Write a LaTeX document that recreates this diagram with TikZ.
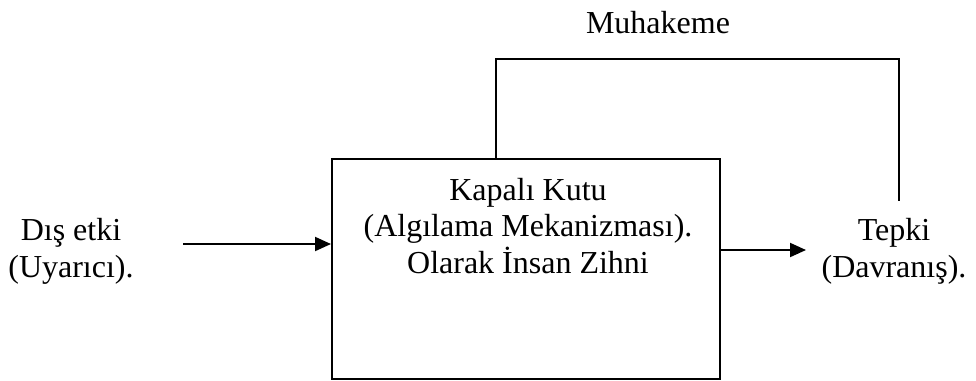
\documentclass[tikz,border=0pt]{standalone}
\usepackage{fontspec}
\setmainfont{Liberation Serif}
\usepackage{tikz}
\usetikzlibrary{positioning,arrows.meta}
\tikzset{%
	kutu/.style={
		rectangle,
		draw,
		line width=0.75pt,
		inner sep=0pt,
		minimum width=145.5pt,
		minimum height=82.5pt
	},
	etiket/.style={
		align=center,
		inner sep=0pt,
		anchor=base,
		font=\fontsize{12}{13.6}\selectfont
	},
	ok/.style={
		line width=0.75pt,
		-{Triangle[length=6pt,width=5.25pt]}
	},
	hat/.style={ line width=0.75pt },
}
\begin{document}
\begin{tikzpicture}[x=0.375pt, y=-0.375pt]
\useasboundingbox (0,0) rectangle (976,380);
% box
\node[kutu] (kutu) at (526,269) {};
\node[etiket] (zihin) at (528,273) {Kapalı Kutu\\ (Algılama Mekanizması).\\Olarak İnsan Zihni};

% labels (base = last line)
\node[etiket] (dis) at (71,277) {Dış etki\\(Uyarıcı).};
\node[etiket] (tepki) at (894,277) {Tepki\\(Davranış).};
\node[etiket] (muhakeme) at (658,33) {Muhakeme};

% connector ends
\coordinate (girdi) at (183,244);
\coordinate (cikti) at (806,250);
\coordinate (dal) at (496,159);
\coordinate (geri) at (899,201);

% connections
\draw[ok] (girdi) -- (girdi -| kutu.west);
\draw[ok] (cikti -| kutu.east) -- (cikti);
\draw[hat] (dal) -- ++(0,-100) -| (geri);
\end{tikzpicture}
\end{document}
